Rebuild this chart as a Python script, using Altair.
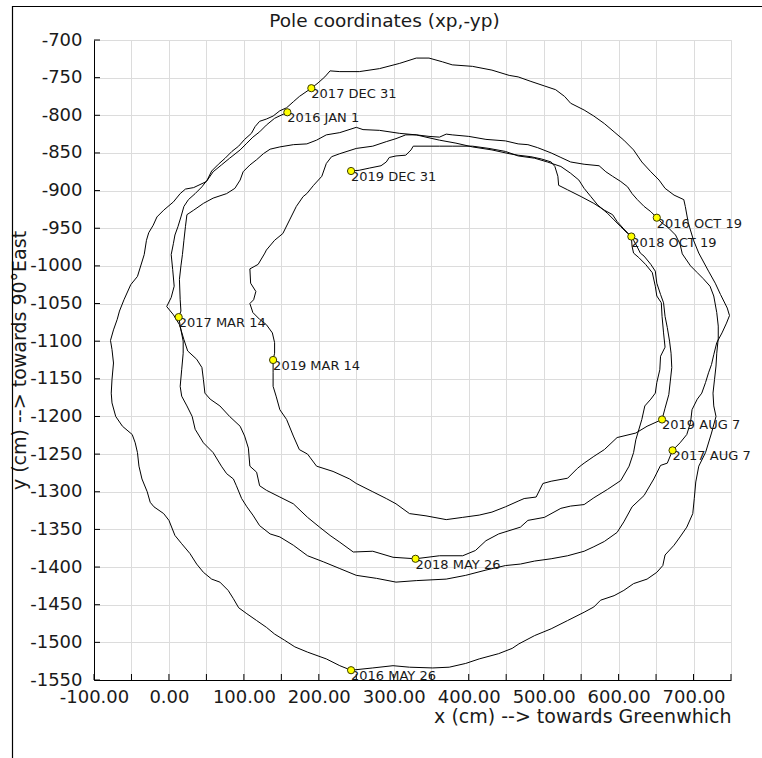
import altair as alt
import pandas as pd

# Pole path (cm), split into legs between labelled epochs
leg_2016_x = [158, 141, 130, 121, 112, 104, 95, 81, 70, 59, 50, 33, 22, 15, 6, -7, -16, -21, -27, -30, -33,
              -42, -51, -60, -66, -69, -74, -78, -76, -74, -76, -77, -76, -71, -62, -49, -45, -42, -40,
              -36, -29, -25, -20, -7, 0, 8, 17, 28, 37, 46, 57, 68, 79, 86, 93, 104, 117, 130, 141, 154,
              168, 185, 210, 228, 243, 272, 299, 321, 352, 374, 396, 414, 440, 458, 467, 488, 510, 532,
              554, 567, 576, 594, 607, 620, 638, 651, 659, 662, 674, 682, 691, 699, 701, 703, 707, 716,
              724, 730, 727, 726, 728, 730, 731, 733, 733, 731, 727, 722, 713, 705, 696, 685, 682, 676,
              667, 658, 651, 643, 634, 625, 618, 612, 603, 592, 583, 574, 554, 536, 523, 510, 492, 479,
              466, 449, 423, 400, 378, 370, 361, 347, 330, 308, 281, 259, 250, 228, 210, 197, 184, 166,
              148, 135, 126, 117, 108, 99, 95, 88, 77, 59, 46, 33, 24, 22, 20, 18, 16, 14, 15, 16, 13]
leg_2016_y = [-796, -804, -813, -822, -829, -837, -846, -857, -866, -875, -888, -896, -898, -904, -915, -926,
              -935, -946, -956, -966, -985, -1014, -1025, -1045, -1060, -1071, -1085, -1099, -1111, -1129,
              -1151, -1169, -1182, -1200, -1213, -1224, -1235, -1248, -1266, -1283, -1300, -1314, -1320,
              -1329, -1338, -1358, -1369, -1382, -1396, -1407, -1416, -1420, -1431, -1442, -1454, -1462,
              -1471, -1480, -1489, -1497, -1506, -1513, -1522, -1531, -1537, -1534, -1531, -1533, -1534,
              -1533, -1528, -1522, -1515, -1508, -1502, -1491, -1482, -1471, -1460, -1453, -1444, -1438,
              -1431, -1422, -1416, -1407, -1398, -1384, -1371, -1360, -1347, -1329, -1309, -1287, -1266,
              -1248, -1222, -1200, -1186, -1169, -1151, -1133, -1116, -1096, -1080, -1062, -1040, -1027,
              -1017, -1009, -1000, -984, -971, -959, -950, -943, -936, -928, -921, -912, -904, -895, -888,
              -881, -875, -867, -865, -862, -856, -850, -843, -839, -838, -834, -832, -828, -826, -825,
              -829, -828, -826, -824, -820, -819, -816, -823, -826, -833, -838, -839, -842, -845, -851,
              -859, -866, -875, -886, -897, -904, -910, -917, -926, -932, -948, -966, -985, -1000, -1018,
              -1045, -1060, -1068]

leg_2017_x = [13, 16, 19, 19, 17, 15, 17, 24, 31, 35, 46, 59, 70, 77, 86, 90, 97, 104, 112, 121, 135, 148,
              166, 185, 206, 228, 250, 277, 303, 330, 370, 396, 423, 449, 469, 488, 510, 532, 554, 567,
              581, 598, 607, 618, 634, 647, 656, 665, 672, 682, 691, 696, 698, 705, 711, 716, 720, 724,
              727, 731, 738, 744, 748, 745, 736, 729, 720, 707, 700, 693, 689, 687, 674, 662, 654, 643,
              631, 620, 607, 594, 581, 567, 554, 536, 528, 516, 501, 483, 466, 454, 431, 405, 378, 365,
              347, 330, 308, 281, 254, 228, 215, 208, 199, 190]
leg_2017_y = [-1068, -1085, -1100, -1116, -1138, -1160, -1173, -1186, -1200, -1217, -1235, -1248, -1266,
              -1276, -1283, -1292, -1309, -1320, -1331, -1345, -1356, -1360, -1371, -1385, -1393, -1402,
              -1411, -1415, -1420, -1418, -1416, -1411, -1404, -1398, -1396, -1392, -1389, -1385, -1379,
              -1373, -1366, -1354, -1340, -1320, -1305, -1283, -1265, -1262, -1245, -1235, -1224, -1208,
              -1191, -1177, -1169, -1155, -1142, -1131, -1118, -1102, -1089, -1076, -1066, -1056, -1038,
              -1023, -1007, -983, -966, -943, -921, -912, -906, -897, -886, -875, -862, -846, -833, -822,
              -811, -801, -793, -784, -775, -766, -761, -755, -749, -747, -740, -735, -733, -729, -724,
              -724, -731, -738, -742, -742, -741, -749, -757, -764]

leg_2018_x = [190, 174, 166, 157, 148, 139, 130, 121, 115, 110, 101, 93, 84, 75, 66, 57, 51, 44, 35, 26, 20,
              16, 12, 8, 6, 3, 5, 7, 3, -3, 6, 14, 20, 25, 37, 44, 46, 48, 55, 68, 81, 95, 101, 106, 108,
              117, 119, 121, 130, 148, 166, 185, 201, 215, 228, 246, 272, 299, 329, 361, 392, 409, 423,
              440, 469, 479, 501, 523, 536, 554, 567, 585, 603, 614, 620, 623, 631, 635, 643, 649, 651,
              655, 656, 662, 660, 658, 657, 651, 649, 645, 636, 627, 620, 618, 617, 607, 598, 592, 581,
              567, 550, 532, 520, 519, 515, 510, 497, 483, 466, 454, 431, 405, 383, 361, 343, 330, 316,
              303, 290, 272, 250, 228, 217, 210, 204, 193, 184, 179, 170, 161, 152, 141, 130, 128, 119,
              108, 109, 116, 113, 108, 112, 121, 130, 138, 141, 141, 139]
leg_2018_y = [-764, -775, -782, -790, -794, -801, -805, -808, -815, -824, -832, -841, -848, -857, -865, -874,
              -886, -895, -904, -912, -921, -935, -948, -959, -970, -985, -1005, -1027, -1042, -1054,
              -1065, -1078, -1098, -1113, -1124, -1135, -1151, -1169, -1177, -1186, -1200, -1213, -1226,
              -1242, -1266, -1274, -1283, -1292, -1298, -1307, -1316, -1334, -1347, -1358, -1367, -1380,
              -1379, -1387, -1389, -1385, -1385, -1378, -1365, -1356, -1347, -1338, -1334, -1322, -1319,
              -1317, -1308, -1297, -1285, -1266, -1248, -1231, -1204, -1186, -1177, -1169, -1155, -1138,
              -1120, -1108, -1089, -1067, -1049, -1040, -1027, -1009, -998, -989, -983, -974, -961, -951,
              -941, -932, -926, -917, -908, -899, -893, -881, -868, -862, -858, -855, -853, -851, -846,
              -842, -837, -833, -829, -826, -826, -831, -835, -841, -844, -851, -855, -864, -881, -893,
              -904, -908, -921, -939, -957, -966, -979, -983, -998, -1004, -1023, -1034, -1045, -1050,
              -1062, -1071, -1078, -1089, -1102, -1116, -1125]

leg_2019_x = [139, 139, 139, 143, 148, 157, 166, 174, 185, 188, 197, 219, 241, 250, 272, 290, 303, 321, 343,
              370, 392, 414, 431, 449, 467, 474, 490, 499, 510, 532, 545, 550, 554, 567, 581, 598, 623,
              638, 658, 662, 667, 669, 671, 670, 668, 665, 662, 660, 656, 651, 649, 643, 634, 629, 625,
              620, 612, 603, 594, 585, 572, 563, 554, 547, 536, 523, 505, 488, 466, 449, 427, 405, 378,
              361, 326, 323, 316, 303, 294, 290, 283, 268, 254, 243]
leg_2019_y = [-1125, -1142, -1160, -1173, -1191, -1204, -1226, -1244, -1250, -1254, -1266, -1273, -1283,
              -1289, -1300, -1309, -1316, -1329, -1332, -1337, -1334, -1331, -1327, -1320, -1312, -1309,
              -1307, -1289, -1286, -1282, -1269, -1265, -1262, -1253, -1244, -1228, -1222, -1213, -1204,
              -1189, -1171, -1153, -1135, -1116, -1100, -1082, -1067, -1049, -1038, -1023, -1007, -998,
              -987, -983, -975, -966, -957, -948, -939, -930, -919, -908, -897, -886, -877, -868, -862,
              -857, -854, -848, -844, -841, -841, -841, -841, -846, -853, -854, -856, -862, -867, -870,
              -873, -874]

# Labelled epochs along the path
epoch_names = ["2016 JAN 1", "2016 MAY 26", "2016 OCT 19", "2017 MAR 14", "2017 AUG 7", "2017 DEC 31",
               "2018 MAY 26", "2018 OCT 19", "2019 MAR 14", "2019 AUG 7", "2019 DEC 31"]
epoch_x = [158, 243, 651, 13, 672, 190, 329, 617, 139, 658, 243]
epoch_y = [-796, -1537, -936, -1068, -1245, -764, -1389, -961, -1125, -1204, -874]

# Axis tick positions
x_ticks = [-100, -50, 0, 50, 100, 150, 200, 250, 300, 350, 400, 450, 500, 550, 600, 650, 700, 750]
y_ticks = [-1550, -1500, -1450, -1400, -1350, -1300, -1250, -1200, -1150, -1100, -1050, -1000,
           -950, -900, -850, -800, -750, -700]

FONT = "DejaVu Sans"
INK = "#1a1a1a"

rows = []
for xs, ys in ((leg_2016_x, leg_2016_y), (leg_2017_x, leg_2017_y),
               (leg_2018_x, leg_2018_y), (leg_2019_x, leg_2019_y)):
    for x, y in zip(xs, ys):
        rows.append({"xp": x, "yp": y, "seq": len(rows)})
path_df = pd.DataFrame(rows)
epoch_df = pd.DataFrame({"xp": epoch_x, "yp": epoch_y, "epoch": epoch_names})
xtick_df = pd.DataFrame({"xp": x_ticks})
ytick_df = pd.DataFrame({"yp": y_ticks})

x_scale = alt.Scale(domain=[-100, 750], nice=False, zero=False)
y_scale = alt.Scale(domain=[-1550, -700], nice=False, zero=False)

x_axis = alt.Axis(
    values=x_ticks, ticks=False, grid=True, gridColor="#dcdcdc", gridWidth=1,
    domainColor="black", domainWidth=1,
    labelExpr="datum.value % 100 === 0 ? replace(format(datum.value, '.2f'), '\u2212', '-') : ''",
    labelFont=FONT, labelFontSize=18, labelColor=INK, labelPadding=8,
    labelFlush=False, labelOverlap=False,
    title="x (cm) --> towards Greenwhich", titleFont=FONT, titleFontSize=19,
    titleFontWeight="normal", titleColor=INK, titleAnchor="end", titlePadding=1,
)
y_axis = alt.Axis(
    values=y_ticks, ticks=False, grid=True, gridColor="#dcdcdc", gridWidth=1,
    domainColor="black", domainWidth=1,
    labelExpr="replace(format(datum.value, 'd'), '\u2212', '-')",
    labelFont=FONT, labelFontSize=18, labelColor=INK, labelPadding=12,
    labelFlush=False, labelOverlap=False,
    title="y (cm) --> towards 90°East", titleFont=FONT, titleFontSize=19,
    titleFontWeight="normal", titleColor=INK, titlePadding=0,
)

x_enc = alt.X("xp:Q", scale=x_scale, axis=x_axis)
y_enc = alt.Y("yp:Q", scale=y_scale, axis=y_axis)

path = alt.Chart(path_df).mark_line(color="black", strokeWidth=1).encode(
    x=x_enc, y=y_enc, order=alt.Order("seq:Q")
)

# Short inward tick marks on both axes
x_tick_marks = alt.Chart(xtick_df).mark_rule(color="black", strokeWidth=1).encode(
    x=x_enc, y=alt.value(640), y2=alt.value(634)
)
y_tick_marks = alt.Chart(ytick_df).mark_rule(color="black", strokeWidth=1).encode(
    y=y_enc, x=alt.value(0), x2=alt.value(6)
)

# Epoch labels: the one sitting on the bottom edge is cut by the plot area
label_style = dict(align="left", baseline="top", font=FONT, fontSize=13, color=INK)
epoch_text_free = alt.Chart(epoch_df).transform_filter(
    alt.datum.epoch != "2016 MAY 26"
).mark_text(**label_style).encode(x=x_enc, y=y_enc, text="epoch:N")
epoch_text_cut = alt.Chart(epoch_df).transform_filter(
    alt.datum.epoch == "2016 MAY 26"
).mark_text(clip=True, **label_style).encode(x=x_enc, y=y_enc, text="epoch:N")

epoch_dots = alt.Chart(epoch_df).mark_point(
    filled=True, fill="#ffff00", stroke="#3a3a00", strokeWidth=1, size=52, opacity=1, shape="circle"
).encode(x=x_enc, y=y_enc)

# Panel border (top and left edges) around the whole figure
one_row = pd.DataFrame({"k": [0]})
frame_top = alt.Chart(one_row).mark_rule(color="black", strokeWidth=1.2).encode(
    x=alt.value(-82), x2=alt.value(700), y=alt.value(-33.5)
)
frame_left = alt.Chart(one_row).mark_rule(color="black", strokeWidth=1.2).encode(
    x=alt.value(-81.5), y=alt.value(-34), y2=alt.value(730)
)

chart = alt.layer(
    frame_top, frame_left, path, x_tick_marks, y_tick_marks,
    epoch_text_free, epoch_text_cut, epoch_dots
).properties(
    width=637, height=640,
    title=alt.TitleParams(
        "Pole coordinates (xp,-yp)", font=FONT, fontSize=18.5, fontWeight="normal", color=INK,
        anchor="middle", frame="group", baseline="alphabetic", offset=-40.5, dx=-28,
    ),
    autosize=alt.AutoSizeParams(type="none"),
    padding={"left": 94, "top": 40, "right": 31, "bottom": 78},
).configure_view(strokeWidth=0).configure(background="white")

chart.save("out.html", embed_options={"renderer": "svg", "actions": False})
